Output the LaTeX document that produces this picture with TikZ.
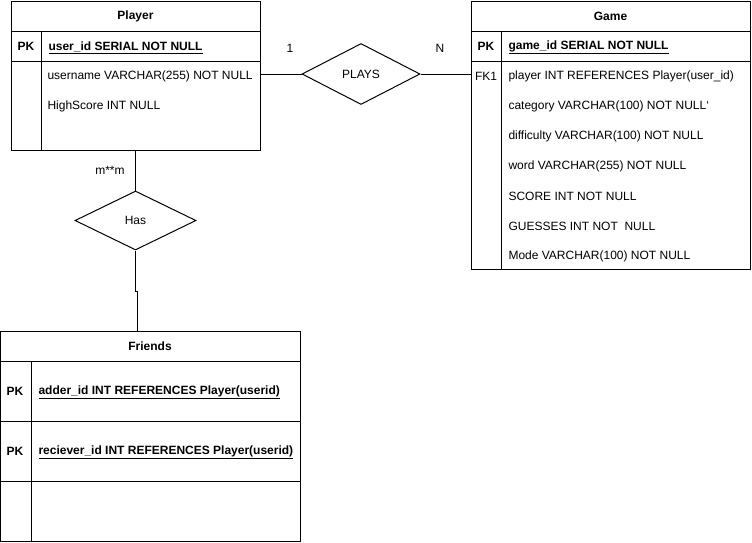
\documentclass[tikz,border=0pt]{standalone}
\usepackage{fontspec}
\setmainfont{Liberation Sans}
\usepackage{tikz}
\usetikzlibrary{shapes,arrows,positioning,fit,calc,matrix}

\begin{document}
\begin{tikzpicture}[x=1pt,y=-1pt,line width=1pt,
    every node/.style={font=\fontsize{12}{14}\selectfont,inner sep=0pt},
    tbl/.style={draw,rectangle},
    head/.style={font=\fontsize{12}{14}\selectfont\bfseries,yshift=-0.5pt},
    field/.style={anchor=west,yshift=-1pt},
    rel/.style={draw,diamond,inner sep=0pt}]
  \useasboundingbox (0,0) rectangle (752,542);

  \node[tbl,minimum width=249,minimum height=149] (player) at (135.5,75.5) {};
  \draw (player.west |- 0,31) -- (player.east |- 0,31);
  \draw (player.west |- 0,61) -- (player.east |- 0,61);
  \draw (41,31) -- (41,150);
  \node[head] (playerhead) at (135.5,16) {Player};
  \node[head] (playerpk) at (26,46) {PK};
  \node[head,field] (userid) at (48,46) {\underline{user\_id SERIAL NOT NULL}};
  \node[field] (username) at (47,75) {username VARCHAR(255) NOT NULL};
  \node[field] (highscore) at (47,105) {HighScore INT NULL};

  \node[tbl,minimum width=279,minimum height=268] (game) at (610.5,135) {};
  \draw (game.west |- 0,31) -- (game.east |- 0,31);
  \draw (game.west |- 0,61) -- (game.east |- 0,61);
  \draw (501,31) -- (501,269);
  \node[head] (gamehead) at (610.5,16) {Game};
  \node[head] (gamepk) at (486,46) {PK};
  \node[head,field] (gameid) at (508,46) {\underline{game\_id SERIAL NOT NULL}};
  \node[yshift=-1pt] (gamefk) at (486,75) {FK1};
  \foreach \t [count=\i from 0] in {{player INT REFERENCES Player(user\_id)},
      {category VARCHAR(100) NOT NULL{\char96}},{difficulty VARCHAR(100) NOT NULL},
      {word VARCHAR(255) NOT NULL},{SCORE INT NOT NULL},{GUESSES INT NOT ~NULL},
      {Mode VARCHAR(100) NOT NULL}}
    \node[field] (g\i) at (508,75+30*\i) {\t};

  \node[tbl,minimum width=299.5,minimum height=210] (friends) at (150.25,436) {};
  \draw (friends.west |- 0,361) -- (friends.east |- 0,361);
  \draw (friends.west |- 0,421) -- (friends.east |- 0,421);
  \draw (friends.west |- 0,481) -- (friends.east |- 0,481);
  \draw (31,361) -- (31,541);
  \node[head] (friendshead) at (150,346) {Friends};
  \node[head] (adderpk) at (15,391) {PK};
  \node[head,field] (adder) at (38,391) {\underline{adder\_id INT REFERENCES Player(userid)}};
  \node[head] (recpk) at (15,451) {PK};
  \node[head,field] (reciever) at (38,451) {\underline{reciever\_id INT REFERENCES Player(userid)}};

  \node[rel,minimum width=118,minimum height=61] (plays) at (361,74) {PLAYS};
  \node[rel,minimum width=121,minimum height=59] (has) at (135.5,220.5) {Has};

  \draw (player.east |- plays.west) -- (plays.west);
  \draw (plays.east) -- (game.west |- plays.east);
  \node (one) at (290,48) {1};
  \node (many) at (440,48) {N};

  \draw (player.south) -- (has.north);
  \node (mm) at (110,170) {m**m};
  \coordinate (jog) at (137.5,291);
  \draw (has.south) |- (jog) -- (jog |- friends.north);
\end{tikzpicture}
\end{document}
